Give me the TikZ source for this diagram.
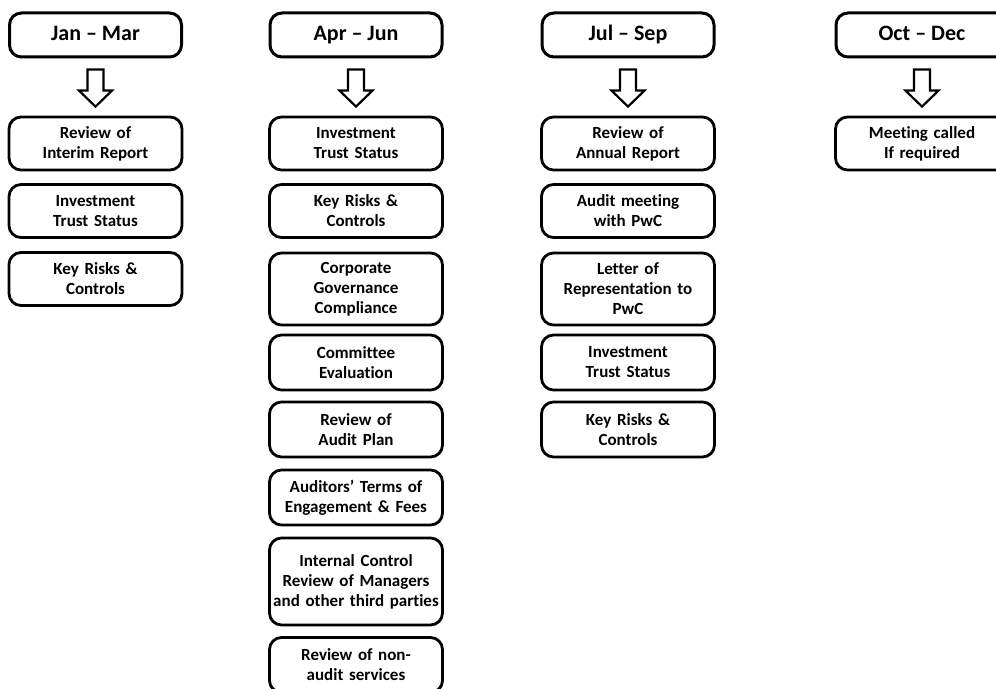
\documentclass[tikz,border=0pt]{standalone}
\usepackage{fontspec}
\setmainfont{Carlito}[RawFeature={-liga}]
\usetikzlibrary{calc}

\tikzset{
	period/.style={draw, line width=1.5pt, rounded corners=6pt, minimum width=86pt, minimum height=22pt, inner sep=1pt, text height=1.6ex, text depth=0.4ex, font=\bfseries\fontsize{11}{13}\selectfont},
	task/.style={draw, line width=1.4pt, rounded corners=6pt, text width=86.5pt, inner xsep=0pt, inner ysep=1pt, align=center, minimum height=26.5pt, font=\bfseries\fontsize{8.5}{10}\selectfont},
	hollow/.style={draw, line width=1.1pt, fill=white, line join=miter},
}

% hollow block arrow from a period box down to its first task
\newcommand{\hollowdown}[2]{%
	\draw[hollow] ($(#1.south)+(-8,11)$) -- ($(#1.south)+(8,11)$)
		-- ($(#2.north)+(8,-25)$) -- ($(#2.north)+(16.5,-25)$)
		-- ($(#2.north)+(0,-9)$) -- ($(#2.north)+(-16.5,-25)$)
		-- ($(#2.north)+(-8,-25)$) -- cycle;}

\begin{document}
\begin{tikzpicture}[x=0.5pt, y=-0.5pt]

	\useasboundingbox (0,0) rectangle (996,689);
	\clip (0,0) rectangle (996,689);

	% quarters
	\node (q1) [period] at (95.5, 35) {Jan -- Mar};
	\node (q2) [period] at (356, 35) {Apr -- Jun};
	\node (q3) [period] at (628, 35) {Jul -- Sep};
	\node (q4) [period] at (922, 35) {Oct -- Dec};

	% Jan - Mar
	\node (a1) [task] at (95.5, 143.5) {Review of\\Interim Report};
	\node (a2) [task] at (95.5, 211) {Investment\\Trust Status};
	\node (a3) [task] at (95.5, 279) {Key Risks \&\\Controls};

	% Apr - Jun
	\node (b1) [task] at (356, 143.5) {Investment\\Trust Status};
	\node (b2) [task] at (356, 211) {Key Risks \&\\Controls};
	\node (b3) [task, minimum height=36pt] at (356, 289) {Corporate\\Governance\\Compliance};
	\node (b4) [task, minimum height=27.5pt] at (356, 362.5) {Committee\\Evaluation};
	\node (b5) [task, minimum height=27.5pt] at (356, 429.5) {Review of\\Audit Plan};
	\node (b6) [task, minimum height=27.5pt] at (356, 497.5) {Auditors' Terms of\\Engagement \& Fees};
	\node (b7) [task, minimum height=43.5pt] at (356, 581.5) {Internal Control\\Review of Managers\\and other third parties};
	\node (b8) [task, minimum height=27.5pt] at (356, 665) {Review of non-\\audit services};

	% Jul - Sep
	\node (c1) [task] at (628, 143.5) {Review of\\Annual Report};
	\node (c2) [task] at (628, 211) {Audit meeting\\with PwC};
	\node (c3) [task, minimum height=36pt] at (628, 289) {Letter of\\Representation to\\PwC};
	\node (c4) [task, minimum height=27.5pt] at (628, 362.5) {Investment\\Trust Status};
	\node (c5) [task, minimum height=27.5pt] at (628, 429.5) {Key Risks \&\\Controls};

	% Oct - Dec
	\node (d1) [task] at (922, 143.5) {Meeting called\\If required};

	\hollowdown{q1}{a1}
	\hollowdown{q2}{b1}
	\hollowdown{q3}{c1}
	\hollowdown{q4}{d1}

\end{tikzpicture}
\end{document}
